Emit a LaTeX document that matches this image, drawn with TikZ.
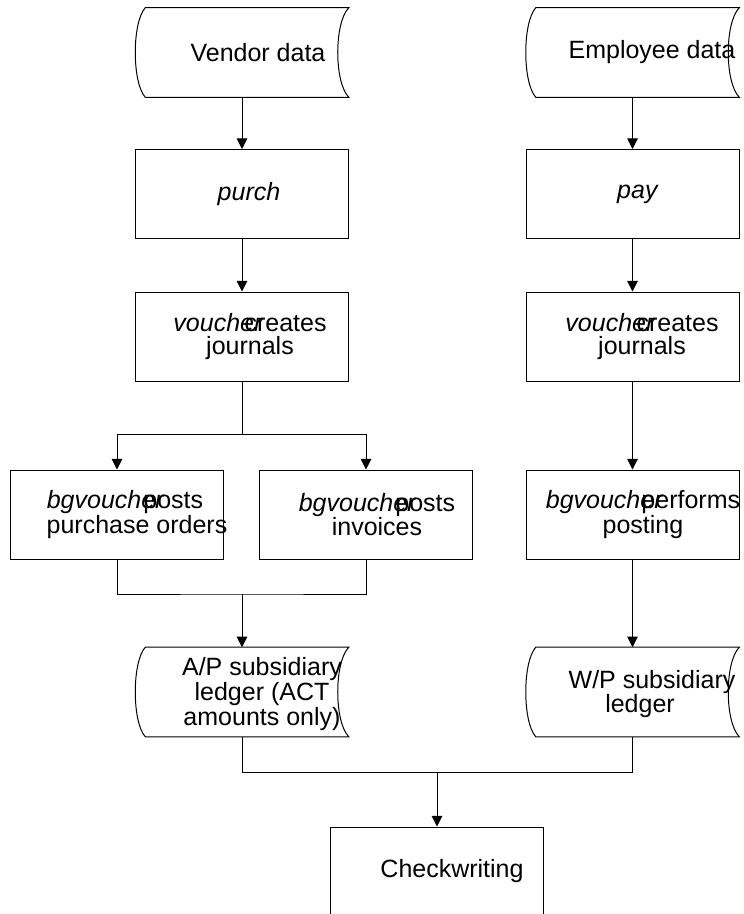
\documentclass[tikz,border=0pt]{standalone}
\usepackage{fontspec}
\setmainfont{Liberation Sans}
\usetikzlibrary{arrows.meta,calc}

% outline of a stored-data symbol: convex left side, concave right side
\newcommand\datastore[1]{%
  \draw[edge] ($(#1.north west)+(10,0)$) -- (#1.north east)
    .. controls ($(#1.north east)+(-14.7,15)$) and ($(#1.south east)+(-14.7,-15)$) .. (#1.south east)
    -- ($(#1.south west)+(10,0)$)
    .. controls ($(#1.south west)+(-3.3,-15)$) and ($(#1.north west)+(-3.3,15)$) .. cycle;}

\tikzset{
  edge/.style={draw=black, line width=0.75pt},
  arr/.style={edge, -{Triangle[length=8pt,width=8pt]}},
  procbox/.style={edge, rectangle, minimum width=159.75pt, minimum height=66.75pt, inner sep=0pt},
  storebox/.style={rectangle, minimum width=159.75pt, minimum height=66.75pt, inner sep=0pt},
  txt/.style={inner sep=0pt, align=center, font=\fontsize{18.75pt}{17.25pt}\selectfont},
}

\begin{document}
\begin{tikzpicture}[x=0.75pt, y=-0.75pt]
\useasboundingbox (0,0) rectangle (743,914);
\clip (0,0) rectangle (743,914);

% ---- shapes ----
\node[storebox] (vendor)   at (242,52.5)  {};
\node[storebox] (employee) at (632.5,52.5) {};
\datastore{vendor}
\datastore{employee}

\node[procbox] (purch) at (242,194)   {};
\node[procbox] (pay)   at (632.5,194) {};

\node[procbox] (vch1) at (242,336.5)   {};
\node[procbox] (vch2) at (632.5,336.5) {};

\node[procbox] (bgp1) at (117,514.5)   {};
\node[procbox] (bgp2) at (366,514.5)   {};
\node[procbox] (bgp3) at (632.5,514.5) {};

\node[storebox] (ap) at (242,692)   {};
\node[storebox] (wp) at (632.5,692) {};
\datastore{ap}
\datastore{wp}

\node[procbox] (check) at (437,871.5) {};

% ---- labels ----
\node[txt] (vendor-t)   at (258,52.5) {Vendor data};
\node[txt] (employee-t) at (652,52.5) {Employee data};
\node[txt] (purch-t)    at (249,194)  {\textit{purch}};
\node[txt] (pay-t)      at (638,194)  {\textit{pay}};
\node[txt] (vch1-t)     at (250,336.5) {\textit{voucher}\hspace{-14pt}creates\\journals};
\node[txt] (vch2-t)     at (642,336.5) {\textit{voucher}\hspace{-14pt}creates\\journals};
\node[txt] (bgp1-t)     at (137,514.5) {\textit{bgvoucher}\hspace{-15.75pt}posts\rule{18pt}{0pt}\\purchase orders};
\node[txt] (bgp2-t)     at (377,514.5) {\textit{bgvoucher}\hspace{-15.75pt}posts\\invoices};
\node[txt] (bgp3-t)     at (643,514.5) {\textit{bgvoucher}\hspace{-16.5pt}performs\\posting};
\node[txt] (ap-t)       at (262,694)  {A/P subsidiary\\ledger (ACT\\amounts only)};
\node[txt] (wp-t)       at (652,694)  {W/P subsidiary\\ledger\rule{18pt}{0pt}};
\node[txt] (check-t)    at (452,871.5) {Checkwriting};

% ---- connectors: vendor branch ----
\draw[arr] (vendor.south) -- (purch.north);
\draw[arr] (purch.south) -- (vch1.north);
\coordinate (split) at (242,434);
\draw[edge] (vch1.south) -- (split);
\draw[arr] (split) -| (bgp1.north);
\draw[arr] (split) -| (bgp2.north);
\coordinate (joinap) at (242,594);
\draw[edge] (bgp1.south) |- (joinap) -| (bgp2.south);
\draw[arr] (joinap) -- (ap.north);

% ---- connectors: employee branch ----
\draw[arr] (employee.south) -- (pay.north);
\draw[arr] (pay.south) -- (vch2.north);
\draw[arr] (vch2.south) -- (bgp3.north);
\draw[arr] (bgp3.south) -- (wp.north);

% ---- both ledgers feed checkwriting ----
\coordinate (joinck) at (437,772);
\draw[edge] (ap.south) |- (joinck) -| (wp.south);
\draw[arr] (joinck) -- (check.north);
\end{tikzpicture}
\end{document}
